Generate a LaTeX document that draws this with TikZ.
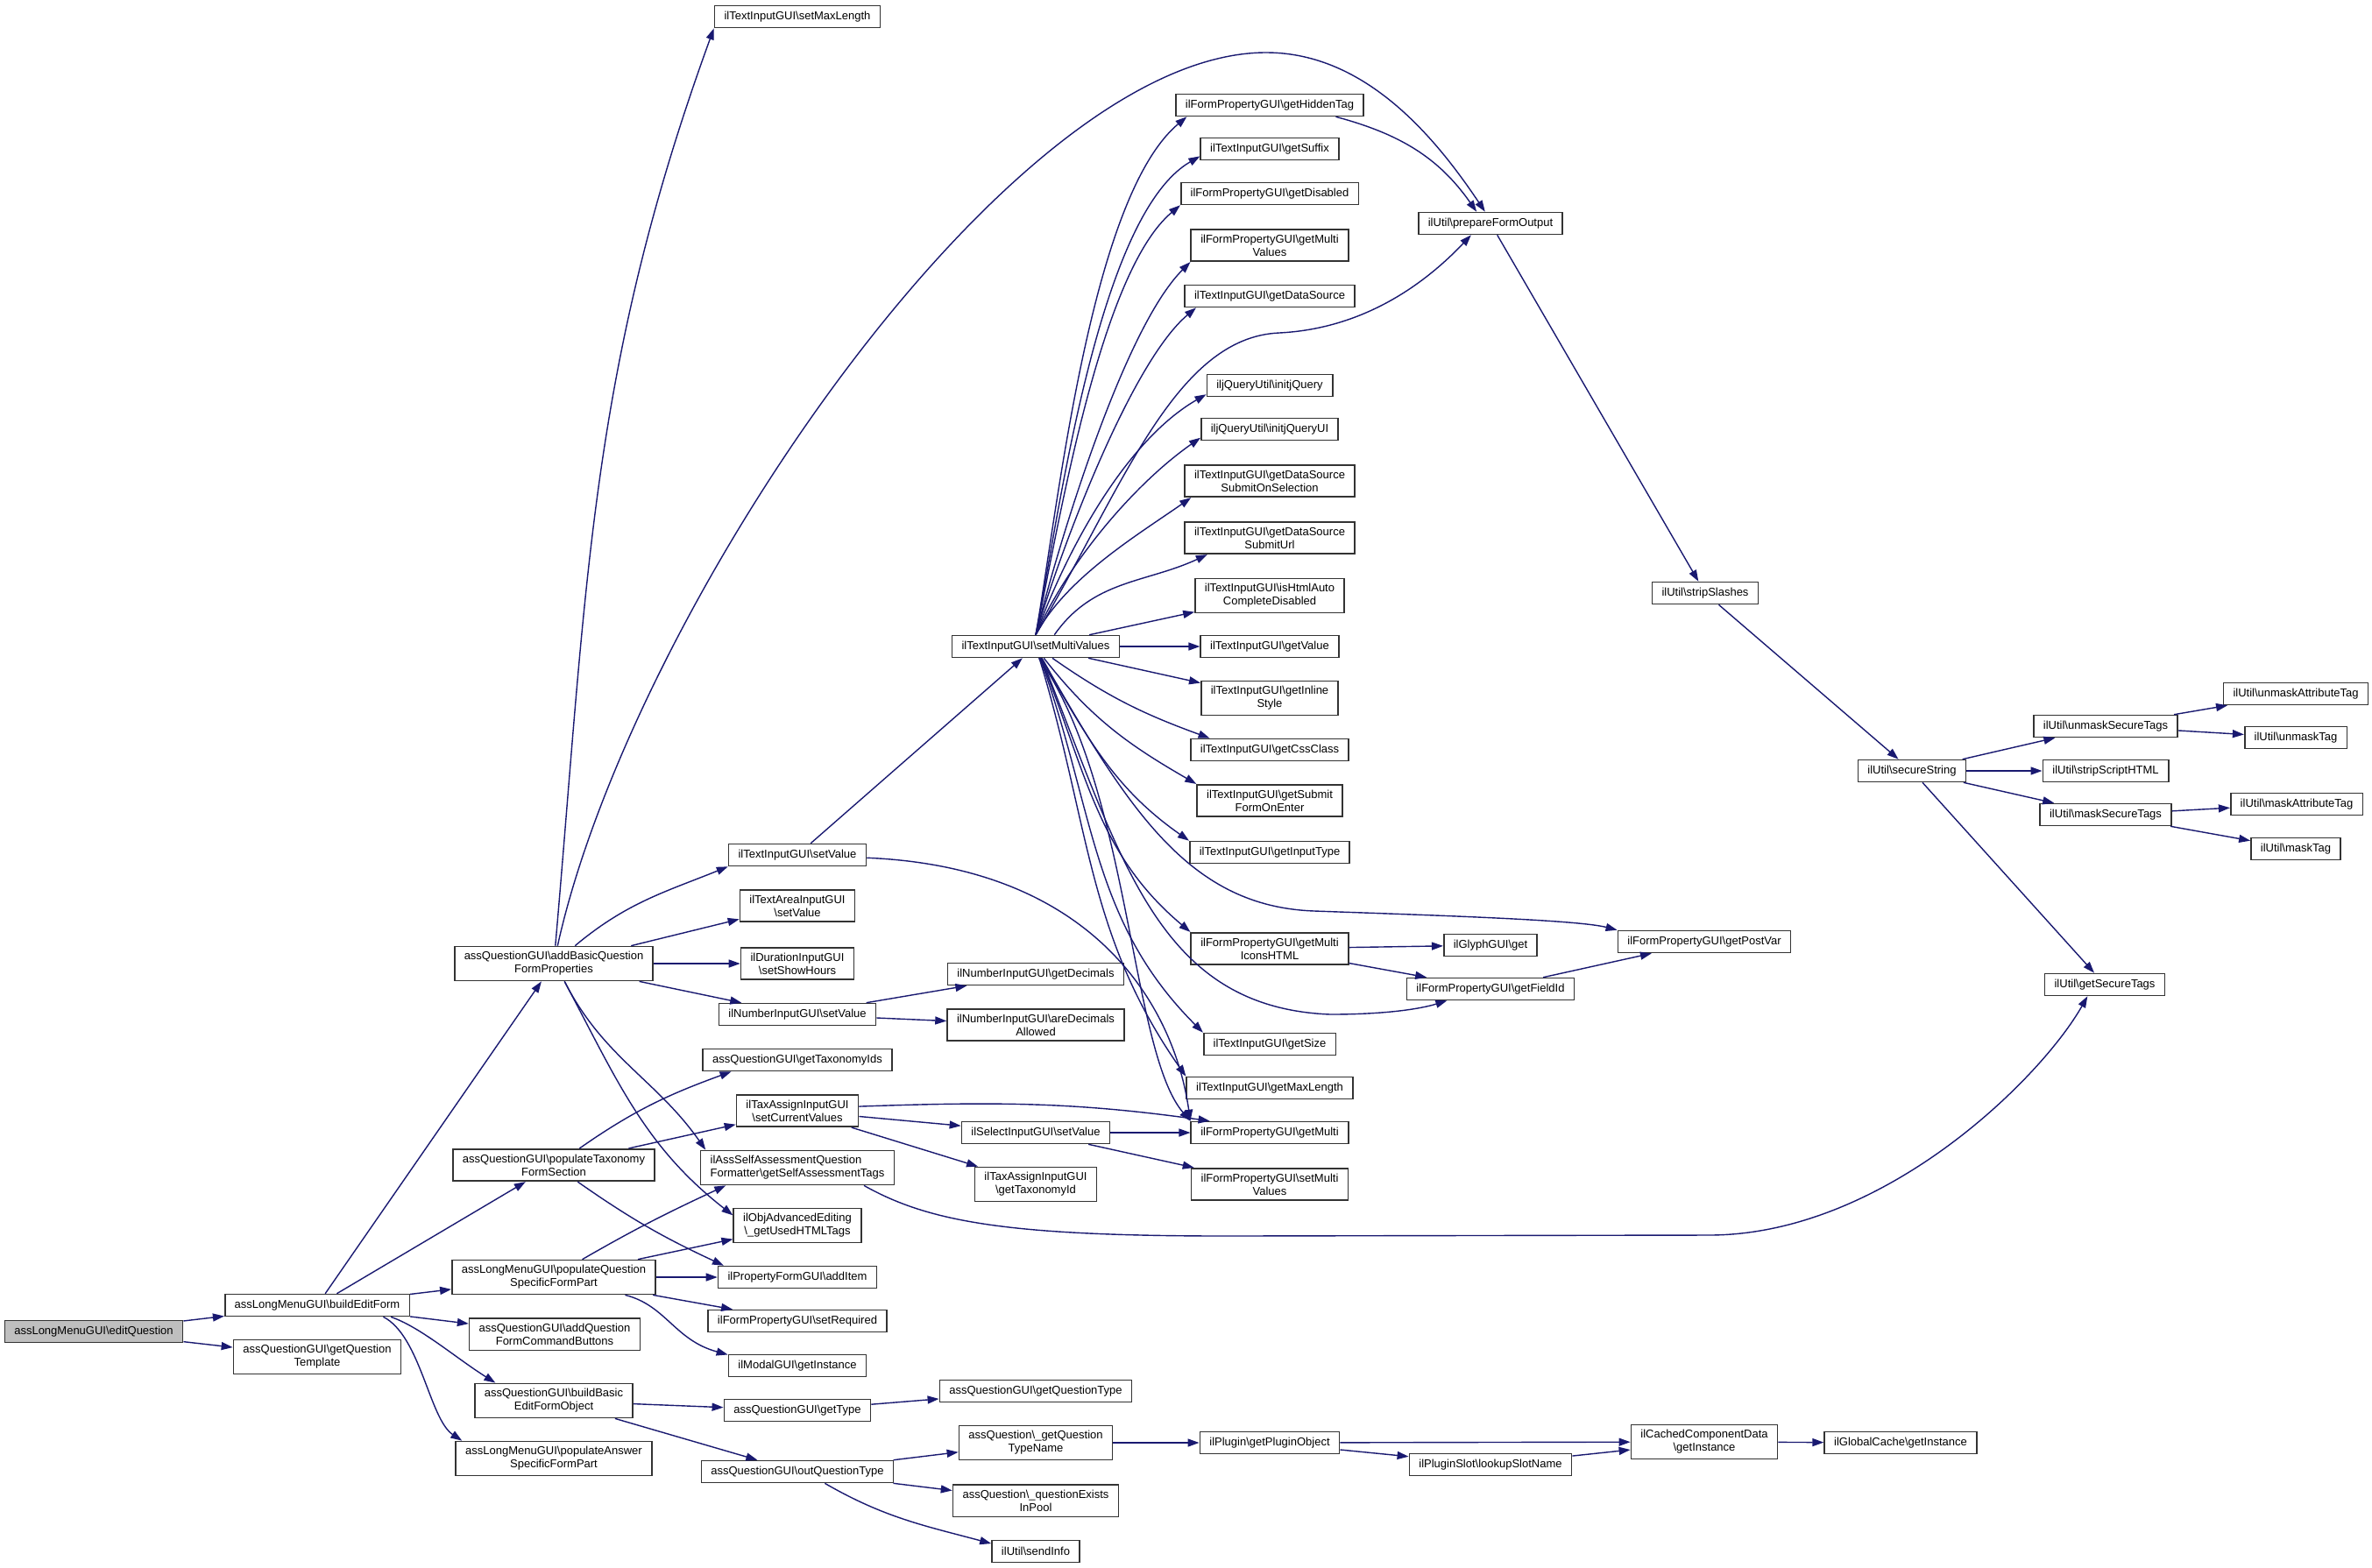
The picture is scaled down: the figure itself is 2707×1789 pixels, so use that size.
\documentclass[tikz,border=0pt]{standalone}
\usepackage{fontspec}
\setmainfont{Liberation Sans}
\usetikzlibrary{arrows.meta}
\definecolor{callblue}{RGB}{25,25,112}
\newcommand{\bksl}{\textbackslash}
\begin{document}
\begin{tikzpicture}[x=0.5pt,y=-0.5pt,>={Triangle[length=6.5pt,width=4.5pt]},
    fn/.style={draw=black!80,line width=0.8pt,fill=white,align=center,
      font=\fontsize{6.5}{7.5}\selectfont,inner xsep=5.5pt,inner ysep=3pt,minimum height=12.5pt},
    call/.style={->,draw=callblue,line width=0.7pt}]
    \useasboundingbox (0,0) rectangle (2707,1789);
    \node[fn,fill=black!25] (eq) at (107,1520) {assLongMenuGUI\bksl editQuestion};
    \node[fn] (bef) at (362,1490) {assLongMenuGUI\bksl buildEditForm};
    \node[fn] (gqt) at (362,1549) {assQuestionGUI\bksl getQuestion\\Template};
    \node[fn] (abq) at (632,1100) {assQuestionGUI\bksl addBasicQuestion\\FormProperties};
    \node[fn] (ptf) at (632,1330) {assQuestionGUI\bksl populateTaxonomy\\FormSection};
    \node[fn] (pqs) at (632,1458) {assLongMenuGUI\bksl populateQuestion\\SpecificFormPart};
    \node[fn] (aqc) at (633,1523) {assQuestionGUI\bksl addQuestion\\FormCommandButtons};
    \node[fn] (bbe) at (632,1599) {assQuestionGUI\bksl buildBasic\\EditFormObject};
    \node[fn] (pas) at (632,1665) {assLongMenuGUI\bksl populateAnswer\\SpecificFormPart};
    \node[fn] (sml) at (910,19) {ilTextInputGUI\bksl setMaxLength};
    \node[fn] (tsv) at (910,976) {ilTextInputGUI\bksl setValue};
    \node[fn] (tasv) at (910,1034) {ilTextAreaInputGUI\\\bksl setValue};
    \node[fn] (dsh) at (910,1100) {ilDurationInputGUI\\\bksl setShowHours};
    \node[fn] (nsv) at (910,1158) {ilNumberInputGUI\bksl setValue};
    \node[fn] (gti) at (910,1210) {assQuestionGUI\bksl getTaxonomyIds};
    \node[fn] (scv) at (910,1268) {ilTaxAssignInputGUI\\\bksl setCurrentValues};
    \node[fn,align=left] (gsat) at (910,1333) {ilAssSelfAssessmentQuestion\\Formatter\bksl getSelfAssessmentTags};
    \node[fn] (guht) at (910,1399) {ilObjAdvancedEditing\\\bksl\_getUsedHTMLTags};
    \node[fn] (ai) at (910,1458) {ilPropertyFormGUI\bksl addItem};
    \node[fn] (sr) at (910,1508) {ilFormPropertyGUI\bksl setRequired};
    \node[fn] (mgi) at (910,1559) {ilModalGUI\bksl getInstance};
    \node[fn] (gt) at (910,1610) {assQuestionGUI\bksl getType};
    \node[fn] (oqt) at (910,1680) {assQuestionGUI\bksl outQuestionType};
    \node[fn] (smv) at (1182,738) {ilTextInputGUI\bksl setMultiValues};
    \node[fn] (gd) at (1182,1112) {ilNumberInputGUI\bksl getDecimals};
    \node[fn] (ada) at (1182,1170) {ilNumberInputGUI\bksl areDecimals\\Allowed};
    \node[fn] (ssv) at (1182,1293) {ilSelectInputGUI\bksl setValue};
    \node[fn] (gtid) at (1182,1352) {ilTaxAssignInputGUI\\\bksl getTaxonomyId};
    \node[fn] (gqty) at (1182,1588) {assQuestionGUI\bksl getQuestionType};
    \node[fn] (gqtn) at (1182,1647) {assQuestion\bksl\_getQuestion\\TypeName};
    \node[fn] (qep) at (1182,1713) {assQuestion\bksl\_questionExists\\InPool};
    \node[fn] (si) at (1182,1771) {ilUtil\bksl sendInfo};
    \node[fn] (ght) at (1449,120) {ilFormPropertyGUI\bksl getHiddenTag};
    \node[fn] (gsf) at (1449,170) {ilTextInputGUI\bksl getSuffix};
    \node[fn] (gdis) at (1449,221) {ilFormPropertyGUI\bksl getDisabled};
    \node[fn] (gmv) at (1449,280) {ilFormPropertyGUI\bksl getMulti\\Values};
    \node[fn] (gds) at (1449,338) {ilTextInputGUI\bksl getDataSource};
    \node[fn] (ijq) at (1449,440) {iljQueryUtil\bksl initjQuery};
    \node[fn] (ijqui) at (1449,490) {iljQueryUtil\bksl initjQueryUI};
    \node[fn] (gdsso) at (1449,549) {ilTextInputGUI\bksl getDataSource\\SubmitOnSelection};
    \node[fn] (gdsu) at (1449,614) {ilTextInputGUI\bksl getDataSource\\SubmitUrl};
    \node[fn] (ihac) at (1449,680) {ilTextInputGUI\bksl isHtmlAuto\\CompleteDisabled};
    \node[fn] (gv) at (1449,738) {ilTextInputGUI\bksl getValue};
    \node[fn] (gis) at (1449,797) {ilTextInputGUI\bksl getInline\\Style};
    \node[fn] (gcc) at (1449,856) {ilTextInputGUI\bksl getCssClass};
    \node[fn] (gsfe) at (1449,914) {ilTextInputGUI\bksl getSubmit\\FormOnEnter};
    \node[fn] (git) at (1449,973) {ilTextInputGUI\bksl getInputType};
    \node[fn] (gmih) at (1449,1083) {ilFormPropertyGUI\bksl getMulti\\IconsHTML};
    \node[fn] (gsz) at (1449,1192) {ilTextInputGUI\bksl getSize};
    \node[fn] (gml) at (1449,1242) {ilTextInputGUI\bksl getMaxLength};
    \node[fn] (gm) at (1449,1293) {ilFormPropertyGUI\bksl getMulti};
    \node[fn] (fsmv) at (1449,1352) {ilFormPropertyGUI\bksl setMulti\\Values};
    \node[fn] (gpo) at (1449,1647) {ilPlugin\bksl getPluginObject};
    \node[fn] (pfo) at (1701,255) {ilUtil\bksl prepareFormOutput};
    \node[fn] (ggg) at (1701,1079) {ilGlyphGUI\bksl get};
    \node[fn] (gfi) at (1701,1129) {ilFormPropertyGUI\bksl getFieldId};
    \node[fn] (lsn) at (1701,1672) {ilPluginSlot\bksl lookupSlotName};
    \node[fn] (ss) at (1946,677) {ilUtil\bksl stripSlashes};
    \node[fn] (gpv) at (1945,1075) {ilFormPropertyGUI\bksl getPostVar};
    \node[fn] (ccd) at (1945,1646) {ilCachedComponentData\\\bksl getInstance};
    \node[fn] (sst) at (2182,880) {ilUtil\bksl secureString};
    \node[fn] (gci) at (2169,1647) {ilGlobalCache\bksl getInstance};
    \node[fn] (gst) at (2402,1124) {ilUtil\bksl getSecureTags};
    \node[fn] (ust) at (2403,829) {ilUtil\bksl unmaskSecureTags};
    \node[fn] (ssh) at (2403,880) {ilUtil\bksl stripScriptHTML};
    \node[fn] (mst) at (2403,930) {ilUtil\bksl maskSecureTags};
    \node[fn] (uat) at (2620,792) {ilUtil\bksl unmaskAttributeTag};
    \node[fn] (ut) at (2620,842) {ilUtil\bksl unmaskTag};
    \node[fn] (mat) at (2621,918) {ilUtil\bksl maskAttributeTag};
    \node[fn] (mt) at (2620,969) {ilUtil\bksl maskTag};

    \draw[call] (eq) -- (bef);
    \draw[call] (eq) -- (gqt);
    \draw[call] (bef) -- (abq);
    \draw[call] (bef) -- (ptf);
    \draw[call] (bef) -- (pqs);
    \draw[call] (bef) -- (aqc);
    \draw[call] (bef.-9) .. controls (480,1515) and (520,1550) .. (bbe.163);
    \draw[call] (bef.-10) .. controls (480,1525) and (490,1620) .. (pas.169);
    \draw[call] (abq) to[out=85,in=-110] (sml.south west);
    \draw[call] (abq.78) .. controls (720,700) and (1150,60) .. (1445,60) .. controls (1560,60) and (1640,160) .. (pfo.115);
    \draw[call] (abq) to[out=40,in=-158] (tsv.south west);
    \draw[call] (abq.13) -- (tasv.-167);
    \draw[call] (abq) -- (dsh);
    \draw[call] (abq) -- (nsv);
    \draw[call] (abq.-59) to[out=-63,in=125] (gsat.169);
    \draw[call] (abq.-59) to[out=-62,in=142] (guht.171);
    \draw[call] (ptf.33) to[out=35,in=-160] (gti.-170);
    \draw[call] (ptf) -- (scv);
    \draw[call] (ptf.-35) to[out=-35,in=155] (ai.171);
    \draw[call] (pqs.32) to[out=30,in=-155] (gsat.-166);
    \draw[call] (pqs) -- (guht);
    \draw[call] (pqs) -- (ai);
    \draw[call] (pqs) -- (sr);
    \draw[call] (pqs) .. controls (760,1490) and (770,1530) .. (mgi.171);
    \draw[call] (bbe) -- (gt);
    \draw[call] (bbe) -- (oqt);
    \draw[call] (tsv) -- (smv);
    \draw[call] (tsv) .. controls (1250,990) and (1340,1150) .. (gm.north west);
    \draw[call] (nsv) -- (gd);
    \draw[call] (nsv) -- (ada);
    \draw[call] (scv.4) to[out=2,in=172] (gm.169);
    \draw[call] (scv) -- (ssv);
    \draw[call] (scv) -- (gtid);
    \draw[call] (gsat.-15) .. controls (1060,1395) and (1150,1411) .. (1400,1411) -- (1950,1410) .. controls (2150,1410) and (2330,1230) .. (gst.-146);
    \draw[call] (ssv) -- (gm);
    \draw[call] (ssv) -- (fsmv);
    \draw[call] (gt) -- (gqty);
    \draw[call] (oqt) -- (gqtn);
    \draw[call] (oqt) -- (qep);
    \draw[call] (oqt.-23) to[out=-30,in=165] (si.170);
    \draw[call] (gqtn) -- (gpo);
    \draw[call] (gpo) -- (ccd);
    \draw[call] (gpo) -- (lsn);
    \draw[call] (lsn) -- (ccd);
    \draw[call] (ccd) -- (gci);

    \draw[call] (smv.north) to[out=80,in=-140,looseness=0.6] (ght.-172);
    \draw[call] (smv.north) to[out=79,in=-150,looseness=0.6] (gsf.-174);
    \draw[call] (smv.north) to[out=78,in=-140,looseness=0.6] (gdis.south west);
    \draw[call] (smv.north) to[out=76,in=-135,looseness=0.6] (gmv.south west);
    \draw[call] (smv.north) to[out=74,in=-140,looseness=0.6] (gds.-171);
    \draw[call] (smv.north) to[out=70,in=-150,looseness=0.8] (ijq.-172);
    \draw[call] (smv.north) to[out=66,in=-145,looseness=0.8] (ijqui.-173);
    \draw[call] (smv.north) to[out=62,in=-145,looseness=0.8] (gdsso.-168);
    \draw[call] (smv.32) to[out=55,in=-155] (gdsu.-165);
    \draw[call] (smv) -- (ihac);
    \draw[call] (smv) -- (gv);
    \draw[call] (smv) -- (gis);
    \draw[call] (smv.-35) to[out=-35,in=160] (gcc.169);
    \draw[call] (smv.-55) to[out=-52,in=150] (gsfe.north west);
    \draw[call] (smv.-65) to[out=-60,in=145] (git.north west);
    \draw[call] (smv) to[out=-68,in=140] (gmih.north west);
    \draw[call] (smv) to[out=-70,in=135] (gsz.north west);
    \draw[call] (smv) to[out=-73,in=125] (gml.north west);
    \draw[call] (smv.-75) .. controls (1290,900) and (1290,1200) .. (gm.north west);
    \draw[call] (smv.-62) .. controls (1290,930) and (1360,1035) .. (1500,1040) .. controls (1640,1045) and (1800,1050) .. (gpv.north west);
    \draw[call] (smv.-64) .. controls (1280,980) and (1320,1150) .. (1518,1158) .. controls (1580,1158) and (1620,1152) .. (gfi.-165);
    \draw[call] (smv.north) .. controls (1280,560) and (1340,385) .. (1460,380) .. controls (1560,375) and (1630,320) .. (pfo.-149);
    \draw[call] (ght.-10) to[out=-15,in=125] (pfo.140);
    \draw[call] (pfo) -- (ss);
    \draw[call] (ss) -- (sst);
    \draw[call] (sst) -- (ust);
    \draw[call] (sst) -- (ssh);
    \draw[call] (sst) -- (mst);
    \draw[call] (sst) -- (gst);
    \draw[call] (ust) -- (uat);
    \draw[call] (ust) -- (ut);
    \draw[call] (mst) -- (mat);
    \draw[call] (mst) -- (mt);
    \draw[call] (gmih) -- (ggg);
    \draw[call] (gmih) -- (gfi);
    \draw[call] (gfi) -- (gpv);
\end{tikzpicture}
\end{document}
